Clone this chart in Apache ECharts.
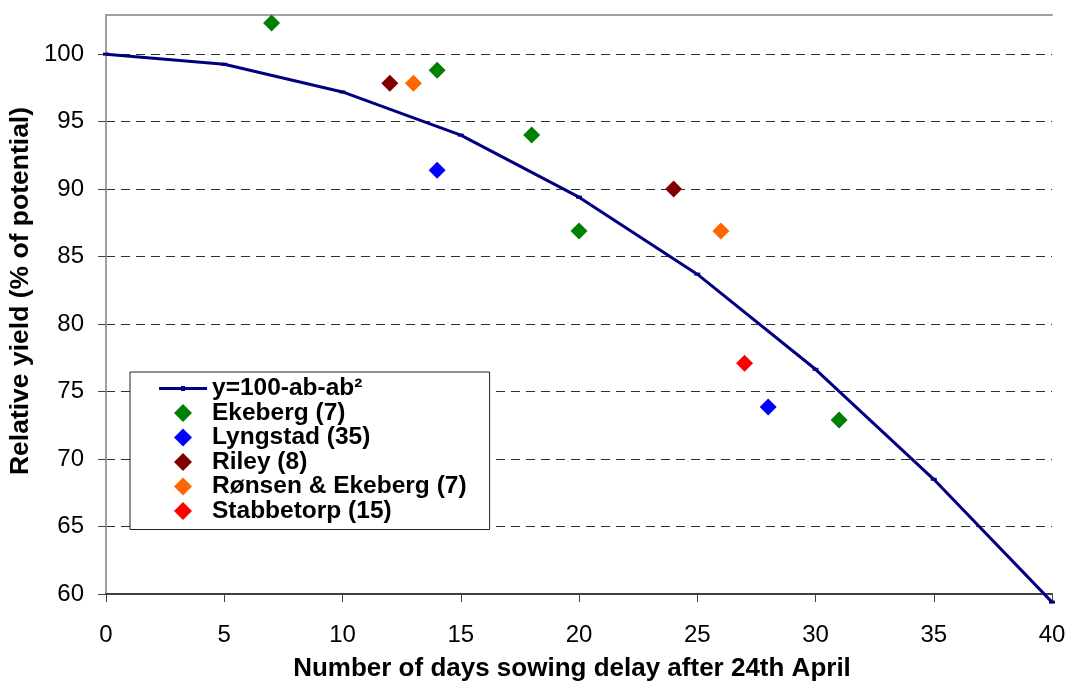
<!DOCTYPE html>
<html>
<head>
<meta charset="utf-8">
<script src="https://cdn.jsdelivr.net/npm/echarts@6/dist/echarts.min.js"></script>
<style>
  html, body { margin: 0; padding: 0; background: #fff; }
  #chart { width: 1072px; height: 682px; }
</style>
</head>
<body>
<div id="chart"></div>
<script>
// fitted curve y=100-ab-ab², read at every 5 days
const curveDays = [0, 5, 10, 15, 20, 25, 30, 35, 40];
const curveYield = [100, 99.25, 97.2, 94.0, 89.4, 83.7, 76.65, 68.5, 59.4];

// observed trials
const ekebergDays = [7, 14, 18, 20, 31];
const ekebergYield = [102.3, 98.8, 94.0, 86.9, 72.9];
const lyngstadDays = [14, 28];
const lyngstadYield = [91.4, 73.85];
const rileyDays = [12, 24];
const rileyYield = [97.85, 90.0];
const ronsenDays = [13, 26];
const ronsenYield = [97.85, 86.9];
const stabbetorpDays = [27];
const stabbetorpYield = [77.1];

const xTicks = [0, 5, 10, 15, 20, 25, 30, 35, 40];
const yTicks = [60, 65, 70, 75, 80, 85, 90, 95, 100];

const font = "'Liberation Sans', Arial, sans-serif";
const pairs = (xs, ys) => xs.map((x, i) => [x, ys[i]]);

// legend icons: the extra M points fix the box so nothing gets stretched
const diamondIcon = 'path://M0,0M48,18M24,0L33,9L24,18L15,9Z';
const lineIcon = 'path://M0,0M48,18M0,7.5L48,7.5L48,10.5L0,10.5ZM22,6.5L26,6.5L26,11.5L22,11.5Z';

const chart = echarts.init(document.getElementById('chart'));

const scatter = (name, xs, ys, color) => ({
  name: name,
  type: 'scatter',
  data: pairs(xs, ys),
  symbol: 'diamond',
  symbolSize: 17,
  itemStyle: { color: color, opacity: 1 },
  z: 4
});

const option = {
  animation: false,
  backgroundColor: '#fff',
  grid: { left: 106, right: 20, top: 15, bottom: 88, outerBoundsMode: 'none' },
  legend: {
    orient: 'vertical',
    left: 130,
    top: 372,
    padding: [4, 23, 6, 29],
    itemWidth: 48,
    itemHeight: 18,
    itemGap: -0.5,
    backgroundColor: '#fff',
    borderColor: '#222',
    borderWidth: 1,
    textStyle: { fontFamily: font, fontWeight: 'bold', fontSize: 24.5, color: '#000' },
    data: [
      { name: 'y=100-ab-ab²', icon: lineIcon },
      { name: 'Ekeberg (7)', icon: diamondIcon },
      { name: 'Lyngstad (35)', icon: diamondIcon },
      { name: 'Riley (8)', icon: diamondIcon },
      { name: 'Rønsen & Ekeberg (7)', icon: diamondIcon },
      { name: 'Stabbetorp (15)', icon: diamondIcon }
    ]
  },
  xAxis: [{
    type: 'value',
    min: xTicks[0],
    max: xTicks[xTicks.length - 1],
    interval: 5,
    name: 'Number of days sowing delay after 24th April',
    nameLocation: 'middle',
    nameGap: 62,
    nameTextStyle: { fontFamily: font, fontWeight: 'bold', fontSize: 26, color: '#000', padding: [0, 14, 0, 0] },
    axisLine: { lineStyle: { color: '#404040', width: 2 } },
    axisTick: { show: true, inside: false, length: 8, lineStyle: { color: '#404040', width: 1 } },
    axisLabel: { fontFamily: font, fontSize: 24, color: '#000', margin: 29 },
    splitLine: { show: false }
  }, {
    type: 'value',
    position: 'top',
    min: xTicks[0],
    max: xTicks[xTicks.length - 1],
    axisLine: { show: true, lineStyle: { color: '#a0a0a0', width: 2 } },
    axisTick: { show: false },
    axisLabel: { show: false },
    splitLine: { show: false }
  }],
  yAxis: [{
    type: 'value',
    min: yTicks[0],
    max: 102.9,
    interval: 5,
    name: 'Relative yield (% of potential)',
    nameLocation: 'middle',
    nameGap: 72,
    nameMoveOverlap: false,
    nameTextStyle: { fontFamily: font, fontWeight: 'bold', fontSize: 26.5, color: '#000', padding: [4, 0, 0, 27] },
    axisLine: { show: true, lineStyle: { color: '#404040', width: 2 } },
    axisTick: { show: true, inside: false, length: 8, lineStyle: { color: '#404040', width: 1 } },
    axisLabel: {
      fontFamily: font, fontSize: 24, color: '#000', margin: 22,
      showMaxLabel: false,
      formatter: v => (yTicks.indexOf(v) >= 0 ? String(v) : '')
    },
    splitLine: { show: true, showMinLine: false, showMaxLine: false, lineStyle: { color: '#303030', type: [9, 6], width: 1 } }
  }, {
    type: 'value',
    position: 'right',
    min: yTicks[0],
    max: 102.9,
    axisLine: { show: true, lineStyle: { color: '#a0a0a0', width: 2 } },
    axisTick: { show: false },
    axisLabel: { show: false },
    splitLine: { show: false }
  }],
  series: [{
    name: 'y=100-ab-ab²',
    type: 'line',
    data: pairs(curveDays, curveYield),
    clip: false,
    symbol: 'rect',
    symbolSize: [6, 3],
    showSymbol: true,
    lineStyle: { color: '#000080', width: 3 },
    itemStyle: { color: '#000080' },
    z: 3
  },
  scatter('Ekeberg (7)', ekebergDays, ekebergYield, '#008000'),
  scatter('Lyngstad (35)', lyngstadDays, lyngstadYield, '#0000ff'),
  scatter('Riley (8)', rileyDays, rileyYield, '#800000'),
  scatter('Rønsen & Ekeberg (7)', ronsenDays, ronsenYield, '#ff6600'),
  scatter('Stabbetorp (15)', stabbetorpDays, stabbetorpYield, '#ff0000')
  ]
};

chart.setOption(option);
</script>
</body>
</html>
